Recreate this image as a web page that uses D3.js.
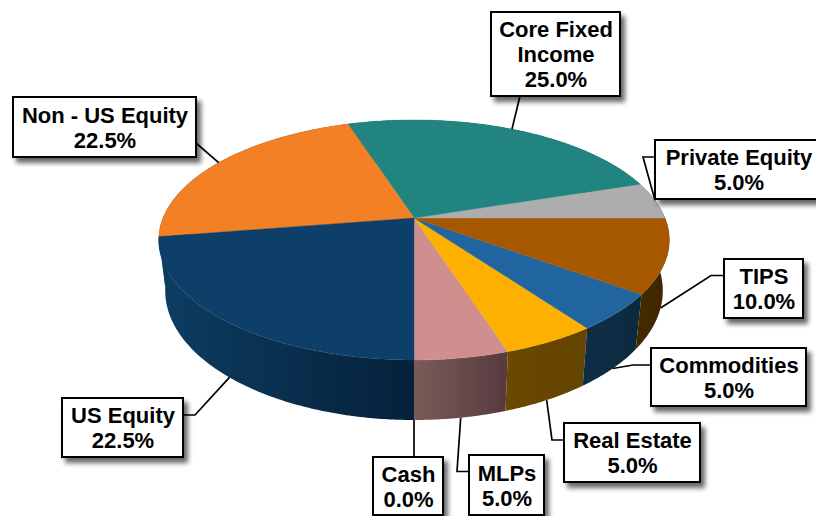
<!DOCTYPE html>
<html>
<head>
<meta charset="utf-8">
<script src="https://cdn.jsdelivr.net/npm/d3@7/dist/d3.min.js"></script>
<style>
html,body{margin:0;padding:0;background:#fff;overflow:hidden}
svg{display:block}
text{font-family:"Liberation Sans",Arial,sans-serif;font-weight:bold;fill:#000}
</style>
</head>
<body>
<svg id="chart" width="816" height="516"></svg>
<script>
// Data, listed counter-clockwise from the front of the pie
const categories = ["Cash","MLPs","Real Estate","Commodities","TIPS","Private Equity","Core Fixed Income","Non - US Equity","US Equity"];
const values = [0,5,5,5,10,5,25,22.5,22.5];

// Styles
const topColors  = ["#8c8c8c","#CE8F8E","#FDB000","#20659F","#A65800","#ADADAD","#228481","#F38025","#0E3F69"];
const wallLeft   = ["#555555","#7A5B58","#6A4900","#0F2E46","#452A00","#555555","#114341","#0D3D62","#0D3D62"];
const wallRight  = ["#555555","#563A3E","#634400","#0C293E","#3E2500","#555555","#114341","#0D3D62","#05213A"];

// Callout layout: box [x0,y0,x1,y1], text lines, elbow on the way to the box
const calloutLines = [["Cash"],["MLPs"],["Real Estate"],["Commodities"],["TIPS"],["Private Equity"],["Core Fixed","Income"],["Non - US Equity"],["US Equity"]];
const calloutBoxes = [[373,457,443,515],[469,455,544,515],[564,423,700,482],[651,348,806,406],[724,259,803,318],[655,140,822,199],[491,12,620,96],[13,97,196,157],[62,398,183,457]];
const calloutElbows = [
  [[414,457]],
  [[457,471.5],[469,471.5]],
  [[552,440],[564,440]],
  [[633,365],[651,365]],
  [[711,275.5],[724,275.5]],
  [[643,157],[655,157]],
  [[520,96]],
  [[196,143]],
  [[195,415],[183,415]]
];

// Projection of the two pie planes
const CX = 414, TILT = 0.183;
const planes = {
  top:    {rx:251,   cy:218, ry:116},
  bottom: {rx:244.6, cy:267, ry:125}
};
function project(a, plane){
  const u = Math.sin(a), v = Math.cos(a), d = 1 - TILT*v;
  return [CX + plane.rx*u/d, plane.cy + plane.ry*v/d];
}
function arcPoints(a0, a1, plane){
  const n = Math.max(2, Math.ceil((a1-a0)/0.01));
  const s = d3.scaleLinear().domain([0,n]).range([a0,a1]);
  return d3.range(n+1).map(i => project(s(i), plane));
}

const arcs = d3.pie().sort(null).value(d => d).startAngle(0).endAngle(2*Math.PI)(values);
const line = d3.line();
const svg = d3.select("#chart");
const defs = svg.append("defs");

const f = defs.append("filter").attr("id","shadow").attr("x","-20%").attr("y","-20%").attr("width","140%").attr("height","150%");
f.append("feGaussianBlur").attr("in","SourceAlpha").attr("stdDeviation",2.6).attr("result","b");
f.append("feOffset").attr("in","b").attr("dx",3.5).attr("dy",4.5).attr("result","o");
f.append("feComponentTransfer").attr("in","o").attr("result","c").append("feFuncA").attr("type","linear").attr("slope",0.6);
const m = f.append("feMerge");
m.append("feMergeNode").attr("in","c");
m.append("feMergeNode").attr("in","SourceGraphic");

// Walls
const walls = svg.append("g");
arcs.forEach((d,i) => {
  if (d.endAngle - d.startAngle <= 0) return;
  const tp = arcPoints(d.startAngle, d.endAngle, planes.top);
  const bp = arcPoints(d.startAngle, d.endAngle, planes.bottom).reverse();
  const pts = tp.concat(bp);
  const [x0,x1] = d3.extent(pts, p => p[0]);
  const g = defs.append("linearGradient").attr("id","w"+i).attr("gradientUnits","userSpaceOnUse")
    .attr("x1",x0).attr("x2",x1).attr("y1",0).attr("y2",0);
  g.append("stop").attr("offset",0).attr("stop-color",wallLeft[i]);
  g.append("stop").attr("offset",1).attr("stop-color",wallRight[i]);
  walls.append("path").attr("d",line(pts)+"Z").attr("fill","url(#w"+i+")");
});

// Top face
const faces = svg.append("g");
arcs.forEach((d,i) => {
  if (d.endAngle - d.startAngle <= 0) return;
  const pts = [[CX,planes.top.cy]].concat(arcPoints(d.startAngle,d.endAngle,planes.top));
  faces.append("path").attr("d",line(pts)+"Z").attr("fill",topColors[i]).attr("stroke",topColors[i]).attr("stroke-width",0.4);
});

// Leaders
const leaders = svg.append("g").attr("fill","none").attr("stroke","#000").attr("stroke-width",1.7);
arcs.forEach((d,i) => {
  const mid = (d.startAngle+d.endAngle)/2;
  const anchor = project(mid, Math.cos(mid) >= 0 ? planes.bottom : planes.top);
  leaders.append("path").attr("d",line([anchor].concat(calloutElbows[i])));
});

// Callouts
const fmt = d3.format(".1f");
const labels = svg.append("g");
categories.forEach((c,i) => {
  const [x0,y0,x1,y1] = calloutBoxes[i];
  labels.append("rect").attr("x",x0).attr("y",y0).attr("width",x1-x0).attr("height",y1-y0)
    .attr("fill","#fff").attr("stroke","#000").attr("stroke-width",2).attr("filter","url(#shadow)");
  const ls = calloutLines[i].concat([fmt(values[i])+"%"]);
  const cx = (x0+x1)/2 + 0.5, cy = (y0+y1)/2, lh = 25;
  ls.forEach((t,k) => {
    labels.append("text").attr("x",cx).attr("y",cy+(k-(ls.length-1)/2)*lh+8)
      .attr("text-anchor","middle").attr("font-size",22).text(t);
  });
});
</script>
</body>
</html>
